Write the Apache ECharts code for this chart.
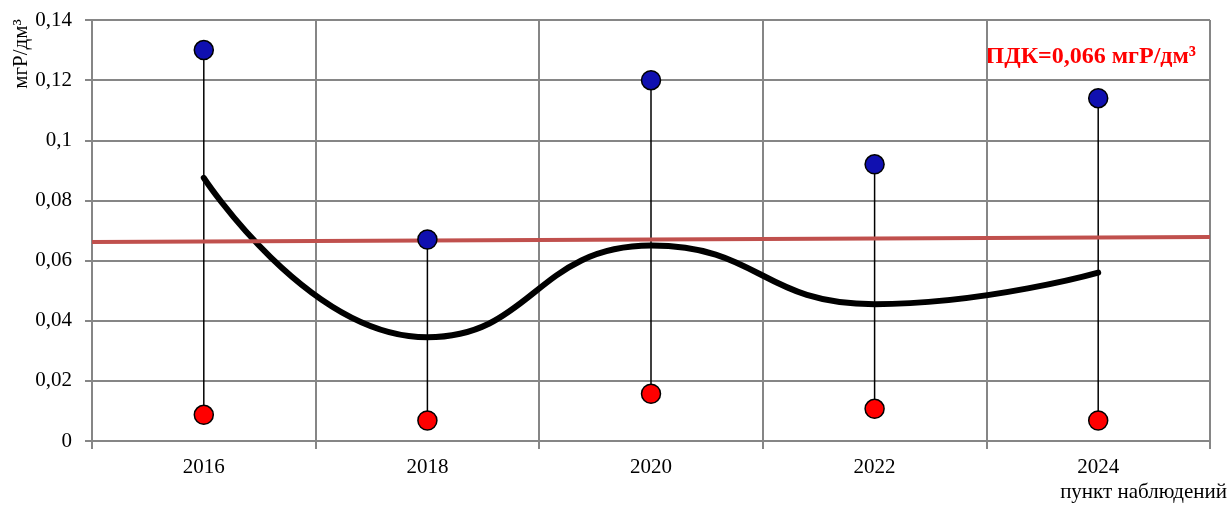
<!DOCTYPE html>
<html><head><meta charset="utf-8">
<script src="https://cdn.jsdelivr.net/npm/echarts@6/dist/echarts.min.js"></script>
<style>html,body{margin:0;padding:0;background:#fff}#c{width:1230px;height:509px}</style>
</head><body><div id="c"></div>
<script>
var categories = ['2016', '2018', '2020', '2022', '2024'];
var maxValues = [0.130, 0.067, 0.120, 0.092, 0.114];
var minValues = [0.0087, 0.0068, 0.0157, 0.0107, 0.0068];
var meanValues = [0.0875, 0.0345, 0.065, 0.0455, 0.056];
var pdkLine = [[0, 0.0662], [1, 0.0678]];
var yName = 'мгР/дм³';
var xName = 'пункт наблюдений';
var pdkLabel = 'ПДК=0,066 мгР/дм³';

var font = 'Liberation Serif';
var chart = echarts.init(document.getElementById('c'));
var rangeData = categories.map(function (c, i) { return [i, minValues[i], maxValues[i]]; });
chart.setOption({
  animation: false,
  textStyle: { fontFamily: font },
  grid: { left: 92, right: 20, top: 20, bottom: 68, containLabel: false },
  xAxis: [{
    type: 'category', data: categories, boundaryGap: true,
    axisLine: { lineStyle: { color: '#868686', width: 2 } },
    axisTick: { show: true, length: 8, lineStyle: { color: '#868686', width: 2 } },
    axisLabel: { color: '#000', fontSize: 21, fontFamily: font, margin: 16 },
    splitLine: { show: true, lineStyle: { color: '#868686', width: 2 } }
  }, {
    type: 'value', min: 0, max: 1, show: false
  }],
  yAxis: {
    type: 'value', min: 0, max: 0.14, interval: 0.02,
    axisLine: { show: true, lineStyle: { color: '#868686', width: 2 } },
    axisTick: { show: true, length: 7, lineStyle: { color: '#868686', width: 2 } },
    axisLabel: { color: '#000', fontSize: 21, fontFamily: font, margin: 20,
      formatter: function (v) { return String(+v.toFixed(2)).replace('.', ','); } },
    splitLine: { show: true, lineStyle: { color: '#868686', width: 2 } }
  },
  graphic: [
    { type: 'text', x: 21, y: 54, rotation: Math.PI / 2,
      style: { text: yName, font: '21px "' + font + '"', fill: '#000', align: 'center', verticalAlign: 'middle' } },
    { type: 'text', right: 3, top: 482,
      style: { text: xName, font: '21px "' + font + '"', fill: '#000' } },
    { type: 'text', right: 34, top: 45,
      style: { text: pdkLabel, font: 'bold 24px "' + font + '"', fill: '#ff0000' } }
  ],
  series: [
    {
      type: 'custom', xAxisIndex: 0, z: 2,
      renderItem: function (params, api) {
        var p1 = api.coord([api.value(0), api.value(1)]);
        var p2 = api.coord([api.value(0), api.value(2)]);
        return { type: 'line', shape: { x1: p1[0], y1: p1[1], x2: p2[0], y2: p2[1] },
          style: { stroke: '#000', lineWidth: 1.5 } };
      },
      encode: { x: 0, y: [1, 2] },
      data: rangeData
    },
    {
      type: 'line', xAxisIndex: 0, data: meanValues, smooth: 0.5, symbol: 'none', z: 3,
      lineStyle: { color: '#000', width: 6, cap: 'round' }
    },
    {
      type: 'line', xAxisIndex: 1, data: pdkLine, symbol: 'none', z: 4,
      lineStyle: { color: '#c0504d', width: 4 }
    },
    {
      type: 'scatter', xAxisIndex: 0, data: maxValues, symbolSize: 19, z: 5,
      itemStyle: { color: '#1010b0', borderColor: '#000', borderWidth: 1.5, opacity: 1 }
    },
    {
      type: 'scatter', xAxisIndex: 0, data: minValues, symbolSize: 19, z: 5,
      itemStyle: { color: '#ff0000', borderColor: '#000', borderWidth: 1.5, opacity: 1 }
    }
  ]
});
</script></body></html>
